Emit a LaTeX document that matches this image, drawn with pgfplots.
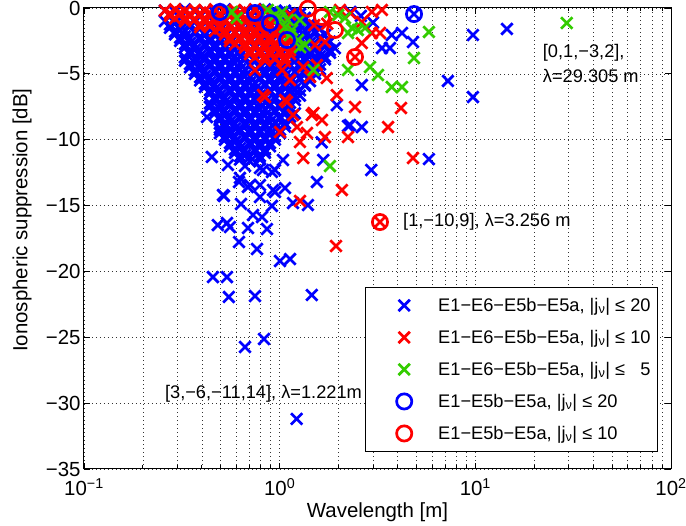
\documentclass[border=0pt]{standalone}
\usepackage{fontspec}
\setmainfont{Liberation Sans}
\usepackage{pgfplots}
\pgfplotsset{compat=1.18}
\definecolor{mgreen}{RGB}{51,204,0}
\newcommand{\tickfont}{\fontsize{20.5}{22}\selectfont}
\newcommand{\labfont}{\fontsize{20.5}{22}\selectfont}
\newcommand{\legfont}{\fontsize{18.3}{20}\selectfont}
\pgfplotsset{
  bxs/.style={only marks, mark=x, mark size=8bp, color=blue, mark options={line width=2.7bp}},
  rxs/.style={only marks, mark=x, mark size=8bp, color=red, mark options={line width=2.7bp}},
  gxs/.style={only marks, mark=x, mark size=8bp, color=mgreen, mark options={line width=2.7bp}},
  bos/.style={only marks, mark=o, mark size=7.6bp, color=blue, mark options={line width=2.7bp}},
  ros/.style={only marks, mark=o, mark size=7.6bp, color=red, mark options={line width=2.7bp}},
}
\begin{document}
\begin{tikzpicture}
\begin{axis}[
  scale only axis, width=587bp, height=461bp,
  xmode=log, xmin=0.1, xmax=100, ymin=-35, ymax=0,
  xtick={0.1,1,10,100},
  xticklabels={10\textsuperscript{−1},10\textsuperscript{0},10\textsuperscript{1},10\textsuperscript{2}},
  minor xtick={0.2,0.3,0.4,0.5,0.6,0.7,0.8,0.9,2,3,4,5,6,7,8,9,20,30,40,50,60,70,80,90},
  ytick={-35,-30,-25,-20,-15,-10,-5,0},
  yticklabels={−35,−30,−25,−20,−15,−10,−5,0},
  xticklabel style={font=\tickfont, yshift=-6bp},
  yticklabel style={font=\tickfont},
  xmajorgrids, xminorgrids, ymajorgrids,
  grid style={black!80, line width=0.6bp, dash pattern=on 0.7bp off 3.3bp},
  minor grid style={black!80, line width=0.6bp, dash pattern=on 0.7bp off 3.3bp},
  tick align=inside,
  major tick length=6bp, minor tick length=3.5bp,
  every tick/.style={black, line width=0.8bp},
  axis line style={line width=1bp},
  clip=false,
  xlabel={Wavelength [m]},
  ylabel={Ionospheric suppression [dB]},
  every axis x label/.style={at={([yshift=-43bp]axis description cs:0.5,0)}, anchor=center, font=\labfont},
  every axis y label/.style={at={([xshift=-62bp]axis description cs:0,0.54)}, rotate=90, anchor=center, font=\labfont},
  legend style={at={(rel axis cs:0.978,0.037)}, anchor=south east, draw=black, line width=1bp, fill=white,
    inner xsep=0bp, inner ysep=2bp, row sep=0bp, column sep=0bp, font=\legfont,
    nodes={inner xsep=7bp, inner ysep=0bp}},
  legend cell align=left,
  legend image code/.code={\path[draw=none,fill=none] (0bp,-16bp) rectangle (66bp,16bp); \draw[#1] plot coordinates {(39bp,0bp)};},
]
% ---- blue x : E1-E6-E5b-E5a, |j|<=20 (dense cloud)
\addplot[bxs] coordinates {
(0.259,-0.2)(0.292,-0.3)(0.328,-0.1)(0.369,-0.25)(0.415,-0.2)(0.467,-0.35)(0.525,-0.1)(0.591,-0.25)(0.665,-0.2)(0.748,-0.35)(0.841,-0.1)(0.946,-0.25)(1.065,-0.2)(1.197,-0.35)
(0.793,-0.4)(0.892,-0.45)(1.004,-0.35)(1.13,-0.4)(1.27,-0.45)
(0.275,-0.6)(0.310,-0.75)(0.348,-0.5)(0.392,-0.65)(0.440,-0.6)(0.495,-0.75)(0.557,-0.5)(0.627,-0.65)(0.705,-0.6)(0.793,-0.75)(0.892,-0.5)(1.004,-0.65)(1.13,-0.6)(1.27,-0.75)
(0.748,-0.8)(0.841,-0.85)(0.946,-0.75)(1.065,-0.8)(1.197,-0.85)(1.346,-0.75)
(0.259,-1.0)(0.292,-1.15)(0.328,-0.9)(0.369,-1.05)(0.415,-1.0)(0.467,-1.15)(0.525,-0.9)(0.591,-1.05)(0.665,-1.0)(0.748,-1.15)(0.841,-0.9)(0.946,-1.05)(1.065,-1.0)(1.197,-1.15)(1.346,-0.9)
(0.275,-1.25)(0.310,-1.3)(0.348,-1.2)(0.392,-1.25)(0.440,-1.3)(0.495,-1.2)(0.557,-1.25)(0.627,-1.3)(0.705,-1.2)(0.793,-1.25)(0.892,-1.3)(1.004,-1.2)(1.13,-1.25)(1.27,-1.3)(1.428,-1.2)
(0.275,-1.5)(0.310,-1.65)(0.348,-1.4)(0.392,-1.55)(0.440,-1.5)(0.495,-1.65)(0.557,-1.4)(0.627,-1.55)(0.705,-1.5)(0.793,-1.65)(0.892,-1.4)(1.004,-1.55)(1.13,-1.5)(1.27,-1.65)(1.428,-1.4)(1.607,-1.55)
(0.292,-1.8)(0.328,-1.7)(0.369,-1.75)(0.415,-1.8)(0.467,-1.7)(0.525,-1.75)(0.591,-1.8)(0.665,-1.7)(0.748,-1.75)(0.841,-1.8)(0.946,-1.7)(1.065,-1.75)(1.197,-1.8)(1.346,-1.7)(1.515,-1.75)
(0.292,-2.0)(0.328,-2.15)(0.369,-1.9)(0.415,-2.05)(0.467,-2.0)(0.525,-2.15)(0.591,-1.9)(0.665,-2.05)(0.748,-2.0)(0.841,-2.15)(0.946,-1.9)(1.065,-2.05)(1.197,-2.0)(1.346,-2.15)(1.515,-1.9)(1.704,-2.05)
(0.310,-2.25)(0.348,-2.3)(0.392,-2.2)(0.440,-2.25)(0.495,-2.3)(0.557,-2.2)(0.627,-2.25)(0.705,-2.3)(0.793,-2.2)(0.892,-2.25)(1.004,-2.3)(1.13,-2.2)(1.27,-2.25)(1.428,-2.3)(1.607,-2.2)
(0.310,-2.5)(0.348,-2.65)(0.392,-2.4)(0.440,-2.55)(0.495,-2.5)(0.557,-2.65)(0.627,-2.4)(0.705,-2.55)(0.793,-2.5)(0.892,-2.65)(1.004,-2.4)(1.13,-2.55)(1.27,-2.5)(1.428,-2.65)(1.607,-2.4)(1.807,-2.55)
(0.328,-2.75)(0.369,-2.8)(0.415,-2.7)(0.467,-2.75)(0.525,-2.8)(0.591,-2.7)(0.665,-2.75)(0.748,-2.8)(0.841,-2.7)(0.946,-2.75)(1.065,-2.8)(1.197,-2.7)(1.346,-2.75)(1.515,-2.8)(1.704,-2.7)
(0.328,-3.0)(0.369,-3.15)(0.415,-2.9)(0.467,-3.05)(0.525,-3.0)(0.591,-3.15)(0.665,-2.9)(0.748,-3.05)(0.841,-3.0)(0.946,-3.15)(1.065,-2.9)(1.197,-3.05)(1.346,-3.0)(1.515,-3.15)(1.704,-2.9)(1.917,-3.05)
(0.348,-3.25)(0.392,-3.3)(0.440,-3.2)(0.495,-3.25)(0.557,-3.3)(0.627,-3.2)(0.705,-3.25)(0.793,-3.3)(0.892,-3.2)(1.004,-3.25)(1.13,-3.3)(1.27,-3.2)(1.428,-3.25)(1.607,-3.3)(1.807,-3.2)
(0.348,-3.5)(0.392,-3.65)(0.440,-3.4)(0.495,-3.55)(0.557,-3.5)(0.627,-3.65)(0.705,-3.4)(0.793,-3.55)(0.892,-3.5)(1.004,-3.65)(1.13,-3.4)(1.27,-3.55)(1.428,-3.5)(1.607,-3.65)(1.807,-3.4)
(0.328,-3.75)(0.369,-3.8)(0.415,-3.7)(0.467,-3.75)(0.525,-3.8)(0.591,-3.7)(0.665,-3.75)(0.748,-3.8)(0.841,-3.7)(0.946,-3.75)(1.065,-3.8)(1.197,-3.7)(1.346,-3.75)(1.515,-3.8)(1.704,-3.7)
(0.328,-4.0)(0.369,-4.15)(0.415,-3.9)(0.467,-4.05)(0.525,-4.0)(0.591,-4.15)(0.665,-3.9)(0.748,-4.05)(0.841,-4.0)(0.946,-4.15)(1.065,-3.9)(1.197,-4.05)(1.346,-4.0)(1.515,-4.15)(1.704,-3.9)
(0.348,-4.25)(0.392,-4.3)(0.440,-4.2)(0.495,-4.25)(0.557,-4.3)(0.627,-4.2)(0.705,-4.25)(0.793,-4.3)(0.892,-4.2)(1.004,-4.25)(1.13,-4.3)(1.27,-4.2)(1.428,-4.25)(1.607,-4.3)
(0.348,-4.5)(0.392,-4.65)(0.440,-4.4)(0.495,-4.55)(0.557,-4.5)(0.627,-4.65)(0.705,-4.4)(0.793,-4.55)(0.892,-4.5)(1.004,-4.65)(1.13,-4.4)(1.27,-4.55)(1.428,-4.5)(1.607,-4.65)
(0.369,-4.75)(0.415,-4.8)(0.467,-4.7)(0.525,-4.75)(0.591,-4.8)(0.665,-4.7)(0.748,-4.75)(0.841,-4.8)(0.946,-4.7)(1.065,-4.75)(1.197,-4.8)(1.346,-4.7)(1.515,-4.75)
(0.369,-5.0)(0.415,-5.15)(0.467,-4.9)(0.525,-5.05)(0.591,-5.0)(0.665,-5.15)(0.748,-4.9)(0.841,-5.05)(0.946,-5.0)(1.065,-5.15)(1.197,-4.9)(1.346,-5.05)(1.515,-5.0)
(0.392,-5.25)(0.440,-5.3)(0.495,-5.2)(0.557,-5.25)(0.627,-5.3)(0.705,-5.2)(0.793,-5.25)(0.892,-5.3)(1.004,-5.2)(1.13,-5.25)(1.27,-5.3)(1.428,-5.2)
(0.392,-5.5)(0.440,-5.65)(0.495,-5.4)(0.557,-5.55)(0.627,-5.5)(0.705,-5.65)(0.793,-5.4)(0.892,-5.55)(1.004,-5.5)(1.13,-5.65)(1.27,-5.4)(1.428,-5.55)
(0.415,-5.75)(0.467,-5.8)(0.525,-5.7)(0.591,-5.75)(0.665,-5.8)(0.748,-5.7)(0.841,-5.75)(0.946,-5.8)(1.065,-5.7)(1.197,-5.75)(1.346,-5.8)
(0.415,-6.0)(0.467,-6.15)(0.525,-5.9)(0.591,-6.05)(0.665,-6.0)(0.748,-6.15)(0.841,-5.9)(0.946,-6.05)(1.065,-6.0)(1.197,-6.15)(1.346,-5.9)
(0.440,-6.25)(0.495,-6.3)(0.557,-6.2)(0.627,-6.25)(0.705,-6.3)(0.793,-6.2)(0.892,-6.25)(1.004,-6.3)(1.13,-6.2)(1.27,-6.25)
(0.440,-6.5)(0.495,-6.65)(0.557,-6.4)(0.627,-6.55)(0.705,-6.5)(0.793,-6.65)(0.892,-6.4)(1.004,-6.55)(1.13,-6.5)(1.27,-6.65)
(0.467,-6.75)(0.525,-6.8)(0.591,-6.7)(0.665,-6.75)(0.748,-6.8)(0.841,-6.7)(0.946,-6.75)(1.065,-6.8)(1.197,-6.7)
(0.467,-7.0)(0.525,-7.15)(0.591,-6.9)(0.665,-7.05)(0.748,-7.0)(0.841,-7.15)(0.946,-6.9)(1.065,-7.05)(1.197,-7.0)
(0.440,-7.25)(0.495,-7.3)(0.557,-7.2)(0.627,-7.25)(0.705,-7.3)(0.793,-7.2)(0.892,-7.25)(1.004,-7.3)(1.13,-7.2)
(0.440,-7.5)(0.495,-7.65)(0.557,-7.4)(0.627,-7.55)(0.705,-7.5)(0.793,-7.65)(0.892,-7.4)(1.004,-7.55)(1.13,-7.5)
(0.467,-7.75)(0.525,-7.8)(0.591,-7.7)(0.665,-7.75)(0.748,-7.8)(0.841,-7.7)(0.946,-7.75)(1.065,-7.8)
(0.467,-8.0)(0.525,-8.15)(0.591,-7.9)(0.665,-8.05)(0.748,-8.0)(0.841,-8.15)(0.946,-7.9)(1.065,-8.05)(1.197,-8.0)
(0.495,-8.25)(0.557,-8.3)(0.627,-8.2)(0.705,-8.25)(0.793,-8.3)(0.892,-8.2)(1.004,-8.25)(1.13,-8.25)
(0.495,-8.5)(0.557,-8.65)(0.627,-8.4)(0.705,-8.55)(0.793,-8.5)(0.892,-8.65)(1.004,-8.4)(1.13,-8.5)
(0.525,-8.75)(0.591,-8.8)(0.665,-8.7)(0.748,-8.75)(0.841,-8.8)(0.946,-8.7)(1.065,-8.75)
(0.525,-9.0)(0.591,-9.15)(0.665,-8.9)(0.748,-9.05)(0.841,-9.0)(0.946,-9.15)(1.065,-9.0)
(0.495,-9.25)(0.557,-9.3)(0.627,-9.2)(0.705,-9.25)(0.793,-9.3)(0.892,-9.2)(1.004,-9.25)
(0.495,-9.5)(0.557,-9.65)(0.627,-9.4)(0.705,-9.55)(0.793,-9.5)(0.892,-9.65)(1.004,-9.5)
(0.525,-9.75)(0.591,-9.8)(0.665,-9.7)(0.748,-9.75)(0.841,-9.8)(0.946,-9.75)
(0.525,-10.0)(0.591,-10.15)(0.665,-9.9)(0.748,-10.05)(0.841,-10.0)(0.946,-10.0)
(0.557,-10.25)(0.627,-10.3)(0.705,-10.2)(0.793,-10.25)(0.892,-10.25)
(0.557,-10.5)(0.627,-10.65)(0.705,-10.4)(0.793,-10.55)(0.892,-10.5)
(0.591,-10.75)(0.665,-10.8)(0.748,-10.7)(0.841,-10.75)
(0.591,-11.0)(0.665,-11.15)(0.748,-10.9)(0.841,-11.0)
(0.627,-11.25)(0.705,-11.3)(0.793,-11.25)
(0.627,-11.5)(0.705,-11.65)(0.793,-11.5)
(0.665,-12.0)
};
\addlegendentry{E1−E6−E5b−E5a, |j\textsubscript{ν}| ≤ 20}
% ---- blue x : scattered points
\addplot[bxs, forget plot] coordinates {
(4.22,-1.9)(4.80,-2.58)(9.72,-2.05)(14.5,-1.59)(7.24,-5.54)(9.72,-6.76)(5.79,-11.47)(4.86,-0.46)
(3.74,-2.05)(3.33,-3.04)(3.66,-3.04)(2.63,-5.85)(2.6,-0.6)(3.0,-1.1)(2.3,-0.3)
(2.288,-8.88)(2.63,-9.04)(2.94,-12.3)(1.55,-13.21)(1.64,-10.2)
(1.96,-7.37)(2.235,-8.96)(1.67,-11.54)
(0.946,-12.3)(1.065,-13.67)(0.924,-13.82)(0.822,-12.3)(1.04,-11.54)
(0.62,-13.21)(0.705,-13.44)(0.793,-13.44)(0.519,-14.27)(0.634,-14.88)(0.793,-14.35)(0.946,-13.97)
(0.913,-15.03)(1.17,-14.81)(1.394,-14.96)
(0.483,-16.48)(0.538,-16.32)(0.557,-16.63)(0.689,-16.7)(0.731,-15.72)(0.812,-15.87)(0.861,-16.78)
(0.62,-17.77)(0.766,-18.3)(1.004,-19.21)(1.13,-19.06)
(0.456,-20.43)(0.538,-20.43)(0.55,-21.94)(0.748,-21.87)(1.46,-21.79)
(0.665,-25.74)(0.832,-25.13)(1.221,-31.2)
(0.45,-11.31)(0.544,-11.92)(0.627,-12.9)(0.688,-13.59)(0.793,-12.15)(0.913,-12.45)(0.513,-14.2)
(0.425,-8.28)(0.495,-9.11)
};
% ---- red x : E1-E6-E5b-E5a, |j|<=10
\addplot[rxs] coordinates {
(0.259,-0.2)(0.292,-0.1)(0.328,-0.25)(0.369,-0.15)(0.415,-0.2)(0.467,-0.1)(0.525,-0.25)(0.591,-0.15)(0.665,-0.2)(0.748,-0.1)(0.841,-0.25)
(0.275,-0.4)(0.310,-0.35)(0.348,-0.45)(0.392,-0.4)(0.440,-0.35)(0.495,-0.45)(0.557,-0.4)(0.627,-0.35)(0.705,-0.45)(0.793,-0.4)
(0.275,-0.6)(0.310,-0.5)(0.348,-0.65)(0.392,-0.55)(0.440,-0.6)(0.495,-0.5)(0.557,-0.65)(0.627,-0.55)(0.705,-0.6)(0.793,-0.5)
(0.292,-0.8)(0.328,-0.75)(0.369,-0.85)(0.415,-0.8)(0.467,-0.75)(0.525,-0.85)(0.591,-0.8)(0.665,-0.75)(0.748,-0.85)(0.841,-0.8)
(0.328,-1.0)(0.369,-0.9)(0.415,-1.05)(0.467,-0.95)(0.525,-1.0)(0.591,-0.9)(0.665,-1.05)(0.748,-0.95)(0.841,-1.0)
(0.392,-1.25)(0.440,-1.2)(0.495,-1.3)(0.557,-1.25)(0.627,-1.2)(0.705,-1.3)(0.793,-1.25)(0.892,-1.2)
(0.392,-1.45)(0.440,-1.4)(0.495,-1.55)(0.557,-1.45)(0.627,-1.5)(0.705,-1.4)(0.793,-1.55)(0.892,-1.45)(1.004,-1.5)
(0.467,-1.75)(0.525,-1.7)(0.591,-1.8)(0.665,-1.75)(0.748,-1.7)(0.841,-1.8)(0.946,-1.75)(1.065,-1.7)
(0.525,-2.0)(0.591,-1.9)(0.665,-2.05)(0.748,-1.95)(0.841,-2.0)(0.946,-1.9)(1.065,-2.05)
(0.557,-2.25)(0.627,-2.2)(0.705,-2.3)(0.793,-2.25)(0.892,-2.2)(1.004,-2.3)(1.13,-2.25)
(0.557,-2.5)(0.627,-2.4)(0.705,-2.55)(0.793,-2.45)(0.892,-2.5)(1.004,-2.4)(1.13,-2.55)
(0.591,-2.75)(0.665,-2.7)(0.748,-2.8)(0.841,-2.75)(0.946,-2.7)(1.065,-2.8)
(0.665,-3.0)(0.748,-2.9)(0.841,-3.05)(0.946,-2.95)(1.065,-3.0)
(0.705,-3.25)(0.793,-3.2)(0.892,-3.3)(1.004,-3.25)(1.13,-3.2)
(0.705,-3.5)(0.793,-3.4)(0.892,-3.55)(1.004,-3.45)(1.13,-3.5)
(0.748,-3.75)(0.841,-3.7)(0.946,-3.8)(1.065,-3.75)
(0.841,-4.0)(0.946,-3.9)(1.065,-4.05)
};
\addlegendentry{E1−E6−E5b−E5a, |j\textsubscript{ν}| ≤ 10}
\addplot[rxs, forget plot] coordinates {
(2.033,-0.15)(2.96,-0.3)(3.33,-0.15)(2.63,-1.06)(2.96,-1.9)(3.256,-1.9)(2.63,-2.66)(1.96,-6.61)
(1.32,-4.48)(1.55,-4.33)(1.43,-5.24)(1.74,-5.32)
(2.426,-7.52)(4.17,-7.59)(3.58,-9.04)(2.235,-9.8)(4.8,-11.39)(2.08,-13.82)(1.32,-11.39)(1.704,-9.8)(1.38,-9.49)(1.27,-10.17)(1.226,-9.04)(1.004,-9.42)(1.09,-7.14)(1.17,-8.12)(1.46,-8.12)(1.645,-8.5)(0.841,-6.76)
(0.748,-4.71)(1.03,-4.71)(1.13,-5.47)(0.822,-6.61)(1.065,-6.99)(1.49,-7.97)
(1.27,-14.65)(1.94,-18.07)
(1.515,-2.81)(1.704,-2.58)
(1.13,-0.5)(1.5,-1.3)(1.75,-1.2)(2.3,-0.4)
(2.426,-3.72)(3.256,-16.25)
};
% ---- green x : E1-E6-E5b-E5a, |j|<=5
\addplot[gxs] coordinates {
(0.570,-0.3)(0.604,-0.76)(0.870,-0.15)(0.946,-0.53)(1.028,-0.3)(1.10,-0.91)(1.065,-1.44)(1.004,-0.76)
(1.24,-2.43)(1.346,-2.81)(1.27,-2.96)(1.13,-2.05)(1.807,-0.3)(1.99,-0.53)(2.157,-0.76)(2.34,-1.52)
(2.235,-1.9)(2.51,-1.67)(2.729,-1.52)(1.27,-0.91)(1.156,-1.67)
(1.49,-4.71)(1.807,-12.0)(2.235,-4.71)(2.894,-4.48)(3.18,-5.09)(3.74,-6.0)(4.22,-6.0)(4.86,-3.8)(5.79,-1.82)(29.305,-1.14)
};
\addlegendentry{E1−E6−E5b−E5a, |j\textsubscript{ν}| ≤ \phantom{2}5}
% ---- blue circles : E1-E5b-E5a, |j|<=20
\addplot[bos] coordinates {
(0.495,-0.3)(0.748,-0.38)(0.892,-1.14)(1.09,-2.43)(4.86,-0.46)
};
\addlegendentry{E1−E5b−E5a, |j\textsubscript{ν}| ≤ 20}
% ---- red circles : E1-E5b-E5a, |j|<=10
\addplot[ros] coordinates {
(1.394,-0.05)(1.645,-0.68)(1.917,-1.67)(2.426,-3.72)(3.256,-16.25)
};
\addlegendentry{E1−E5b−E5a, |j\textsubscript{ν}| ≤ 10}
% ---- annotations
\node[anchor=west, inner sep=0pt, font=\legfont] at (axis cs:22.1,-3.42) {[0,1,−3,2],};
\node[anchor=west, inner sep=0pt, font=\legfont] at (axis cs:22.1,-5.16) {λ=29.305 m};
\node[anchor=west, inner sep=0pt, font=\legfont] at (axis cs:4.27,-16.25) {[1,−10,9], λ=3.256 m};
\node[anchor=west, inner sep=0pt, font=\legfont] at (axis cs:0.259,-29.3) {[3,−6,−11,14], λ=1.221m};
\coordinate (BL) at (rel axis cs:0,0);
\coordinate (TR) at (rel axis cs:1,1);
\end{axis}
\pgfresetboundingbox
\path ([xshift=-84bp,yshift=-57bp]BL) rectangle ([xshift=15bp,yshift=8bp]TR);
\end{tikzpicture}
\end{document}
